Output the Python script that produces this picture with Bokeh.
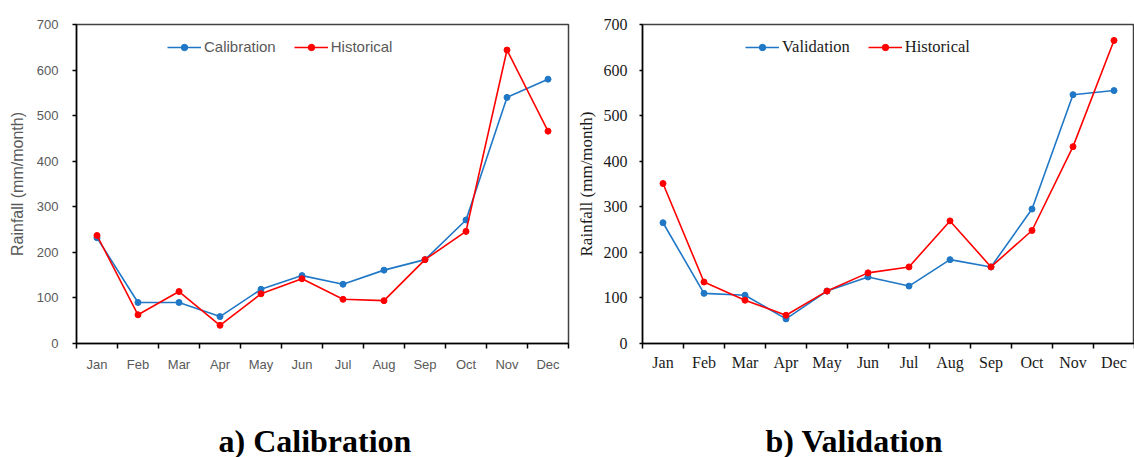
from bokeh.plotting import figure
from bokeh.models import (ColumnDataSource, FixedTicker, Legend, LegendItem, Range1d)
from bokeh.layouts import row, column
from bokeh.core.properties import value
from bokeh.embed import file_html
from bokeh.resources import INLINE

months = ["Jan", "Feb", "Mar", "Apr", "May", "Jun", "Jul", "Aug", "Sep", "Oct", "Nov", "Dec"]
calibration = [232, 90, 90, 59, 119, 149, 130, 161, 184, 271, 540, 580]
historical_cal = [237, 63, 114, 40, 109, 142, 97, 94, 184, 246, 644, 466]
validation = [265, 110, 106, 54, 115, 146, 126, 184, 168, 295, 546, 555]
historical_val = [351, 135, 95, 62, 115, 155, 168, 269, 168, 248, 432, 665]
y_ticks = [0, 100, 200, 300, 400, 500, 600, 700]
captions = ["a) Calibration", "b) Validation"]

BLUE = "#1F77C6"
RED = "#FF0000"
PANEL_H = 397


def make_panel(sim, hist, sim_name, width, left, top, font, tick_size,
               label_size, legend_size, text_color, legend_loc, tick_out_y,
               ylab_standoff, ytick_standoff, xtick_standoff, border_right):
    idx = list(range(len(months)))
    src = ColumnDataSource(dict(x=idx, sim=sim, hist=hist))
    p = figure(width=width, height=PANEL_H, output_backend="svg", toolbar_location=None,
               x_range=Range1d(-0.5, len(months) - 0.5), y_range=Range1d(0, 700),
               min_border_left=left, min_border_right=border_right,
               min_border_top=top, min_border_bottom=PANEL_H - 343)
    p.background_fill_color = "white"
    p.border_fill_color = "white"
    p.outline_line_color = "#404040"
    p.outline_line_width = 1.5
    p.xgrid.visible = False
    p.ygrid.visible = False

    l1 = p.line("x", "sim", source=src, color=BLUE, line_width=1.6)
    s1 = p.scatter("x", "sim", source=src, color=BLUE, size=6)
    l2 = p.line("x", "hist", source=src, color=RED, line_width=1.6)
    s2 = p.scatter("x", "hist", source=src, color=RED, size=6)

    xa = p.xaxis[0]
    xa.ticker = FixedTicker(ticks=idx, minor_ticks=[i - 0.5 for i in range(len(months) + 1)])
    xa.major_label_overrides = {i: m for i, m in zip(idx, months)}
    xa.major_tick_line_color = None
    xa.major_tick_out = 5
    xa.major_tick_in = 0
    xa.minor_tick_out = 5
    xa.minor_tick_in = 0
    xa.minor_tick_line_color = "black"
    xa.minor_tick_line_width = 1.5
    xa.axis_line_color = "black"
    xa.axis_line_width = 1.5
    xa.major_label_text_font = font
    xa.major_label_text_font_size = tick_size
    xa.major_label_text_color = text_color
    xa.major_label_standoff = xtick_standoff

    ya = p.yaxis[0]
    ya.ticker = FixedTicker(ticks=y_ticks)
    ya.minor_tick_line_color = None
    ya.major_tick_out = tick_out_y
    ya.major_tick_in = 0
    ya.major_tick_line_color = "black"
    ya.major_tick_line_width = 1.5
    ya.axis_line_color = "black"
    ya.axis_line_width = 1.5
    ya.major_label_text_font = font
    ya.major_label_text_font_size = tick_size
    ya.major_label_text_color = text_color
    ya.major_label_standoff = ytick_standoff
    ya.axis_label = "Rainfall (mm/month)"
    ya.axis_label_text_font = font
    ya.axis_label_text_font_size = label_size
    ya.axis_label_text_font_style = "normal"
    ya.axis_label_text_color = text_color
    ya.axis_label_standoff = ylab_standoff

    legend = Legend(items=[LegendItem(label=sim_name, renderers=[l1, s1]),
                           LegendItem(label="Historical", renderers=[l2, s2])],
                    orientation="horizontal", location=legend_loc,
                    padding=0, margin=0, spacing=18, glyph_width=34, glyph_height=16,
                    label_height=16, label_standoff=3,
                    border_line_color=None, background_fill_alpha=0,
                    label_text_font=font, label_text_font_size=legend_size,
                    label_text_color=text_color)
    p.add_layout(legend, "center")
    return p


p1 = make_panel(calibration, historical_cal, "Calibration", 570, 76, 19,
                "Liberation Sans", "13px", "16px", "15px", "#595959", (91, 288), 4,
                8, 14, 8, 2)
p2 = make_panel(validation, historical_val, "Validation", 564, 72, 24,
                "Liberation Serif", "16px", "17px", "16.5px", "#1a1a1a", (103, 286), 3,
                5, 12, 5, 0)

# caption strip below the two panels
cap = figure(width=1134, height=457 - PANEL_H, output_backend="svg", toolbar_location=None,
             x_range=Range1d(0, 1134), y_range=Range1d(0, 457 - PANEL_H),
             x_axis_type=None, y_axis_type=None,
             min_border_left=0, min_border_right=0, min_border_top=0, min_border_bottom=0)
cap.outline_line_color = None
cap.xgrid.visible = False
cap.ygrid.visible = False
cap_src = ColumnDataSource(dict(text=captions, x=[218, 765], y=[17, 17]))
cap.text("x", "y", text="text", source=cap_src, text_align="left", text_baseline="middle",
         text_font=value("Liberation Serif"), text_font_size="32px",
         text_font_style="bold", text_color="black")

layout = column(row(p1, p2, spacing=0), cap, spacing=0)
open("out.html", "w").write(file_html(layout, INLINE))
